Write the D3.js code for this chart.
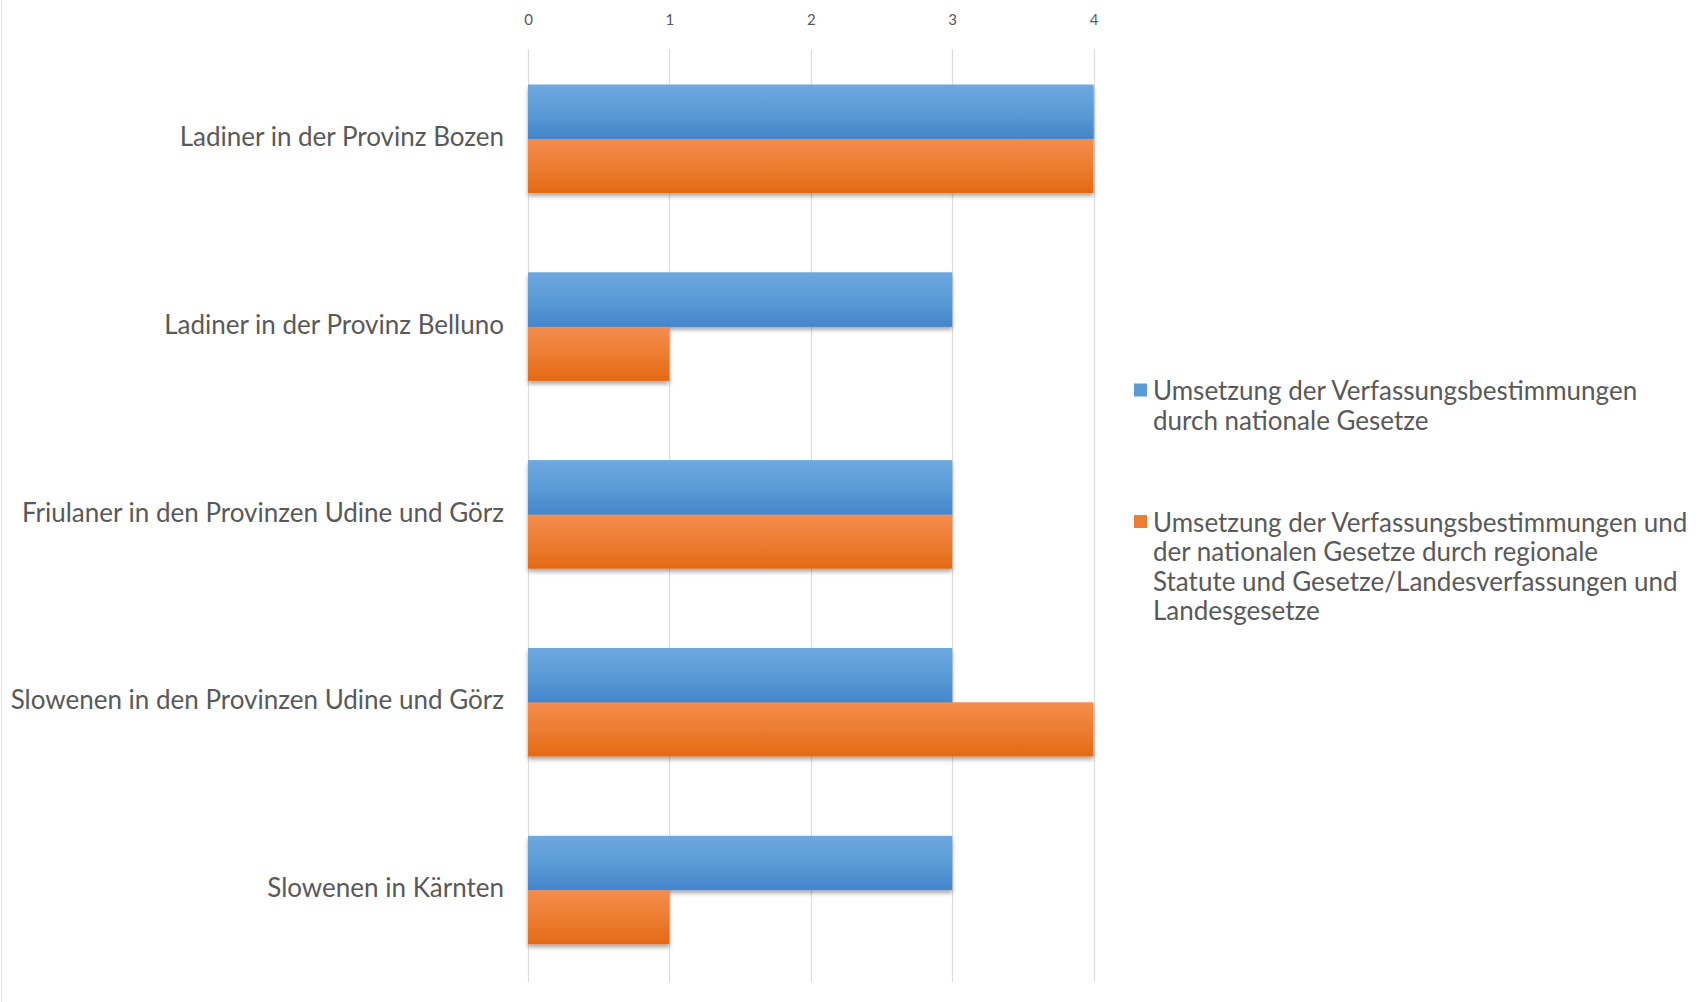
<!DOCTYPE html>
<html>
<head>
<meta charset="utf-8">
<script src="https://cdn.jsdelivr.net/npm/d3@7"></script>
<style>
  html, body { margin: 0; padding: 0; background: #fff; }
  svg { display: block; }
  text { font-family: Lato, "Open Sans", sans-serif; }
</style>
</head>
<body>
<svg id="chart" width="1701" height="1002"></svg>
<script>
// Categories, top to bottom
const categories = [
  "Ladiner in der Provinz Bozen",
  "Ladiner in der Provinz Belluno",
  "Friulaner in den Provinzen Udine und Görz",
  "Slowenen in den Provinzen Udine und Görz",
  "Slowenen in Kärnten"
];

// Series values (one per category)
const nationalValues = [4, 3, 3, 3, 3];
const regionalValues = [4, 1, 3, 4, 1];

// Series names, split into legend lines
const nationalName = ["Umsetzung der Verfassungsbestimmungen", "durch nationale Gesetze"];
const regionalName = [
  "Umsetzung der Verfassungsbestimmungen und",
  "der nationalen Gesetze durch regionale",
  "Statute und Gesetze/Landesverfassungen und",
  "Landesgesetze"
];

const xTicks = [0, 1, 2, 3, 4];

const series = [
  { key: "national", name: nationalName, values: nationalValues, top: "#6fa8e0", mid: "#5b9bd5", bottom: "#4585cc" },
  { key: "regional", name: regionalName, values: regionalValues, top: "#f48d4e", mid: "#ed7d31", bottom: "#e36914" }
];

const svg = d3.select("#chart");
const W = 1701, H = 1002;
const plot = { left: 528, right: 1093.5, top: 45, bottom: 984 };
const labelSize = "26px";

// Gradients and shadow
const defs = svg.append("defs");
series.forEach(s => {
  const g = defs.append("linearGradient")
    .attr("id", "grad-" + s.key)
    .attr("x1", 0).attr("y1", 0).attr("x2", 0).attr("y2", 1);
  g.append("stop").attr("offset", "0%").attr("stop-color", s.top);
  g.append("stop").attr("offset", "50%").attr("stop-color", s.mid);
  g.append("stop").attr("offset", "100%").attr("stop-color", s.bottom);
});
const shadow = defs.append("filter").attr("id", "shadow")
  .attr("x", "-5%").attr("y", "-10%").attr("width", "110%").attr("height", "130%");
shadow.append("feDropShadow")
  .attr("dx", 0).attr("dy", 3).attr("stdDeviation", 2)
  .attr("flood-color", "#000").attr("flood-opacity", 0.35);

// Faint frame line at the left edge
svg.append("line")
  .attr("x1", 1.5).attr("x2", 1.5).attr("y1", 0).attr("y2", H)
  .attr("stroke", "#e4e4e4").attr("stroke-width", 1);

const x = d3.scaleLinear().domain([0, 4]).range([plot.left, plot.right]);
const y = d3.scaleBand()
  .domain(categories)
  .range([plot.top, plot.bottom])
  .paddingInner(0.423)
  .paddingOuter(0.2115);
const ySub = d3.scaleBand()
  .domain(series.map(s => s.key))
  .range([0, y.bandwidth()]);

// Vertical gridlines
svg.append("g")
  .selectAll("line")
  .data(xTicks)
  .join("line")
  .attr("x1", d => Math.round(x(d)) + 0.5)
  .attr("x2", d => Math.round(x(d)) + 0.5)
  .attr("y1", 49).attr("y2", 982)
  .attr("stroke", "#dcdcdc").attr("stroke-width", 1.2);

// Top axis labels
const xAxis = d3.axisTop(x).tickValues(xTicks).tickSize(0).tickPadding(0).tickFormat(d3.format("d"));
const axG = svg.append("g").attr("transform", "translate(0,25)").call(xAxis);
axG.select(".domain").remove();
axG.selectAll("text")
  .attr("fill", "#595959")
  .style("font-size", "15px")
  .style("font-family", "Lato, sans-serif");

// Bars
const groups = svg.append("g")
  .selectAll("g")
  .data(categories)
  .join("g")
  .attr("transform", d => `translate(0,${y(d)})`);

series.forEach(s => {
  groups.append("rect")
    .attr("x", x(0))
    .attr("y", ySub(s.key))
    .attr("width", (d, i) => x(s.values[i]) - x(0))
    .attr("height", ySub.bandwidth())
    .attr("fill", `url(#grad-${s.key})`)
    .attr("filter", "url(#shadow)");
});
// Redraw national bars on top so the shadow of the regional bar does not cover them
groups.append("rect")
  .attr("x", x(0))
  .attr("y", ySub("national"))
  .attr("width", (d, i) => x(nationalValues[i]) - x(0))
  .attr("height", ySub.bandwidth())
  .attr("fill", "url(#grad-national)");

// Category labels
svg.append("g")
  .selectAll("text")
  .data(categories)
  .join("text")
  .attr("x", 504)
  .attr("y", d => y(d) + y.bandwidth() / 2 - 3)
  .attr("text-anchor", "end")
  .attr("dominant-baseline", "central")
  .attr("fill", "#595959")
  .style("font-size", labelSize)
  .text(d => d);

// Legend
const legendItems = [
  { s: series[0], y0: 390 },
  { s: series[1], y0: 521.5 }
];
const lineH = 29.5;
const lg = svg.append("g");
legendItems.forEach(item => {
  lg.append("rect")
    .attr("x", 1134).attr("y", item.y0 - 6.5)
    .attr("width", 13).attr("height", 13)
    .attr("fill", item.s.mid);
  const t = lg.append("text")
    .attr("x", 1153).attr("y", item.y0)
    .attr("fill", "#595959")
    .style("font-size", labelSize)
    .attr("dominant-baseline", "central");
  item.s.name.forEach((line, i) => {
    t.append("tspan")
      .attr("x", 1153)
      .attr("y", item.y0 + i * lineH)
      .text(line);
  });
});
</script>
</body>
</html>
